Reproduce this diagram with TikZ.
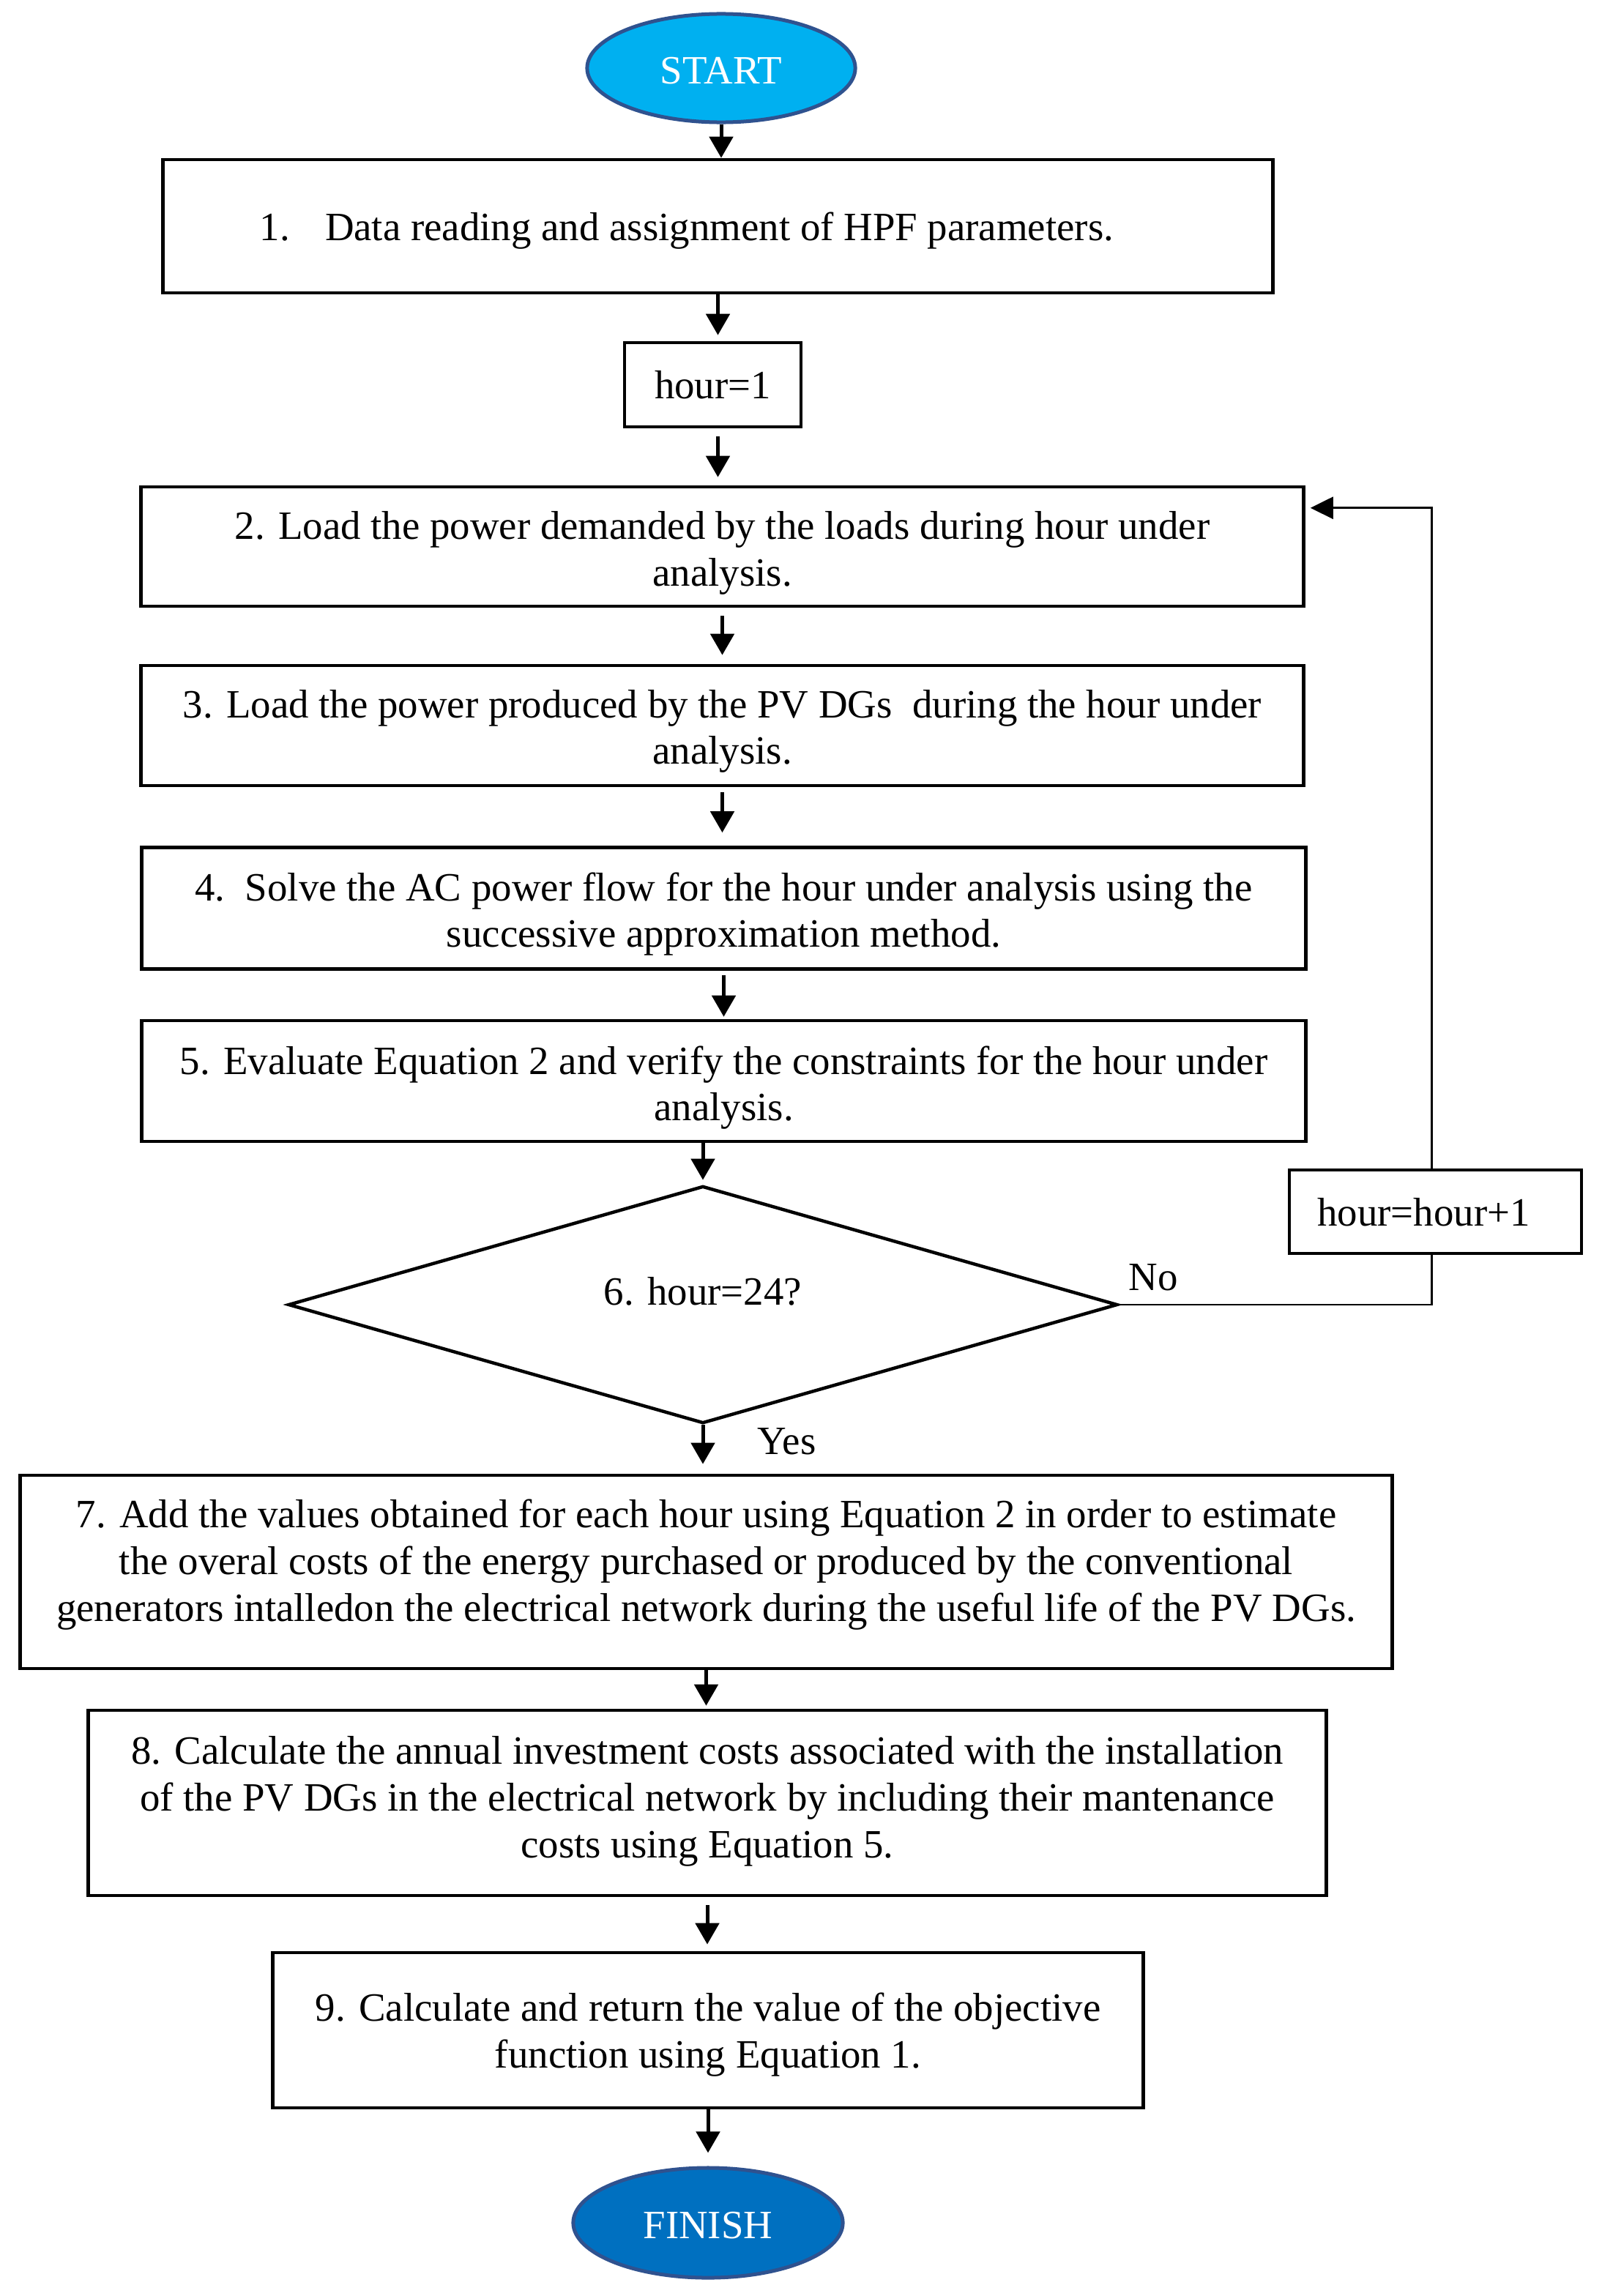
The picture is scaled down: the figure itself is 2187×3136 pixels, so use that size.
\documentclass[tikz,border=0pt]{standalone}
\usepackage{fontspec}
\setmainfont{Liberation Serif}
\usetikzlibrary{shapes.geometric, arrows.meta}
\definecolor{startblue}{HTML}{00B0F0}
\definecolor{finishblue}{HTML}{0070C0}
\definecolor{ovalborder}{HTML}{2F528F}
\begin{document}
\begin{tikzpicture}[x=0.01cm, y=-0.01cm,
  font=\fontsize{15.6}{18.1}\selectfont,
  box/.style={draw, line width=0.045cm, rectangle, inner sep=0pt},
  txt/.style={align=center, inner sep=0pt},
  onebox/.style={draw, line width=0.045cm, rectangle, inner sep=0pt, text height=0.38cm, text depth=0pt},
  oval/.style={ellipse, draw=ovalborder, line width=0.05cm, inner sep=0pt, text=white, text height=0.42cm, text depth=0pt},
  arr/.style={line width=0.05cm, -{Triangle[length=0.29cm, width=0.32cm]}},
  loopline/.style={line width=0.025cm},
  looparr/.style={line width=0.025cm, -{Triangle[length=0.31cm, width=0.30cm]}},
  lbl/.style={anchor=base west, inner sep=0pt}]

\fill[white] (0,0) rectangle (2187,3136);
\useasboundingbox (0,0) rectangle (2187,3136);

% nodes
\node[oval, fill=startblue, minimum width=3.66cm, minimum height=1.48cm] (start) at (985,93) {START};
\node[onebox, minimum width=15.15cm, minimum height=1.82cm] (box1) at (980.5,309)
  {1.\hspace{0.48cm}Data reading and assignment of HPF parameters.\hspace*{0.85cm}};
\node[onebox, minimum width=2.41cm, minimum height=1.15cm] (hour1) at (973.5,525.5) {hour=1};
\node[box, minimum width=15.87cm, minimum height=1.63cm,
  label={[txt, yshift=-0.09cm]center:{2. Load the power demanded by the loads during hour under\\analysis.}}] (box2) at (986.5,746.5) {};
\node[box, minimum width=15.87cm, minimum height=1.64cm,
  label={[txt, yshift=-0.08cm]center:{3. Load the power produced by the PV DGs\ \ during the hour under\\analysis.}}] (box3) at (986.5,991) {};
\node[box, minimum width=15.89cm, minimum height=1.66cm,
  label={[txt, yshift=-0.08cm]center:{4.\ \ Solve the AC power flow for the hour under analysis using the\\successive approximation method.}}] (box4) at (988.5,1240.5) {};
\node[box, minimum width=15.89cm, minimum height=1.65cm,
  label={[txt, yshift=-0.09cm]center:{5. Evaluate Equation 2 and verify the constraints for the hour under\\analysis.}}] (box5) at (988.5,1476.5) {};
\node[draw, diamond, line width=0.045cm, inner sep=0pt, aspect=3.49,
  minimum width=11.32cm, minimum height=3.24cm, text height=0pt, text depth=0pt] (d6) at (960,1782) {6. hour=24?};
\node[onebox, minimum width=3.99cm, minimum height=1.14cm] (inc) at (1960.5,1655)
  {hour=hour+1\hspace*{0.32cm}};
\node[box, minimum width=18.73cm, minimum height=2.64cm,
  label={[txt, yshift=0.10cm]center:{7. Add the values obtained for each hour using Equation 2 in order to estimate\\the overal costs of the energy purchased or produced by the conventional\\generators intalledon the electrical network during the useful life of the PV DGs.}}] (box7) at (964.5,2147) {};
\node[box, minimum width=16.90cm, minimum height=2.53cm,
  label={[txt, yshift=0.02cm]center:{8. Calculate the annual investment costs associated with the installation\\of the PV DGs in the electrical network by including their mantenance\\costs using Equation 5.}}] (box8) at (966,2462.5) {};
\node[box, minimum width=11.88cm, minimum height=2.12cm,
  label={[txt, yshift=-0.06cm]center:{9. Calculate and return the value of the objective\\function using Equation 1.}}] (box9) at (967,2773) {};
\node[oval, fill=finishblue, minimum width=3.68cm, minimum height=1.50cm] (finish) at (967,3036) {FINISH};

% labels
\node[lbl] (nolbl) at (1541,1762) {No};
\node[lbl] (yeslbl) at (1034,1986) {Yes};

% connectors
\draw[arr] (start.south) -- (start.south |- box1.north);
\draw[arr, shorten >=0.08cm] (box1.south) -- (box1.south |- hour1.north);
\draw[arr, shorten <=0.11cm, shorten >=0.11cm] (box1.south |- hour1.south) -- (box1.south |- box2.north);
\draw[arr, shorten <=0.11cm, shorten >=0.12cm] (box2.south) -- (box2.south |- box3.north);
\draw[arr, shorten <=0.07cm, shorten >=0.18cm] (box3.south) -- (box3.south |- box4.north);
\draw[arr, shorten <=0.06cm, shorten >=0.03cm] (box4.south) -- (box4.south |- box5.north);
\draw[arr, shorten >=0.06cm] (d6.north |- box5.south) -- (d6.north);
\draw[arr, shorten >=0.13cm] (d6.south) -- (d6.south |- box7.north);
\draw[arr, shorten >=0.04cm] (box7.south) -- (box7.south |- box8.north);
\draw[arr, shorten <=0.11cm, shorten >=0.09cm] (box8.south) -- (box8.south |- box9.north);
\draw[arr, shorten >=0.18cm] (box9.south) -- (box9.south |- finish.north);

% loop
\coordinate (incbot) at ([xshift=-0.05cm]inc.south);
\coordinate (inctop) at ([xshift=-0.05cm]inc.north);
\coordinate (loopin) at ([yshift=-0.31cm]box2.north east);
\draw[loopline] (d6.east) -| (incbot);
\draw[looparr, shorten >=0.07cm] (inctop) |- (loopin);
\end{tikzpicture}
\end{document}
